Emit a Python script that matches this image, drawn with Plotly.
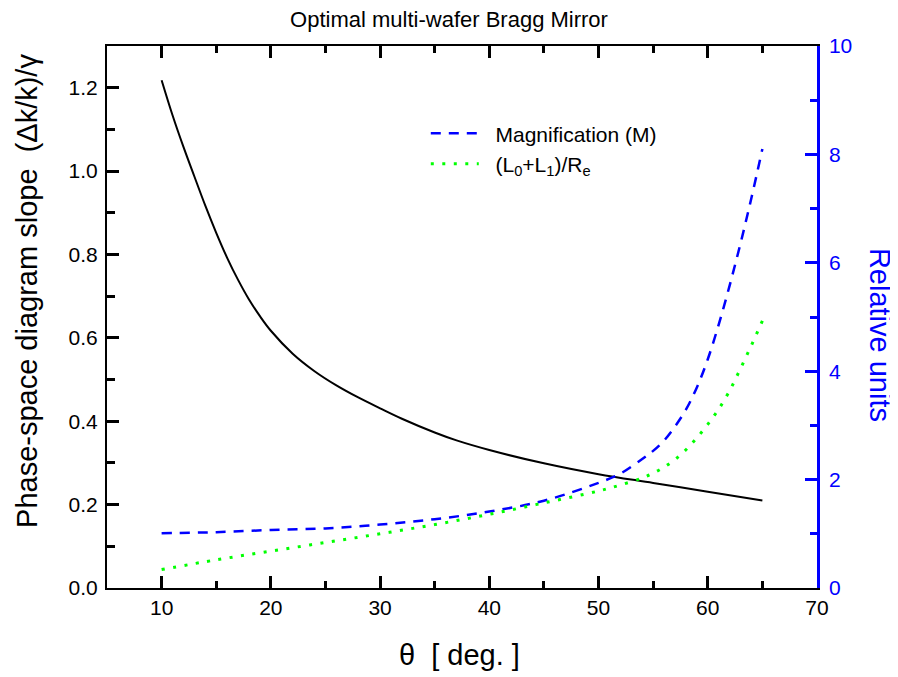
import plotly.graph_objects as go

# ---- data ----
theta_slope = [10, 11, 12, 13, 14, 15, 16, 17, 18, 19, 20, 22, 24, 26, 28, 30,
               32, 35, 37, 40, 45, 50, 55, 60, 65]
slope = [1.218, 1.134, 1.058, 0.987, 0.917, 0.852, 0.792, 0.739, 0.692, 0.652, 0.617,
         0.562, 0.520, 0.486, 0.457, 0.431, 0.406, 0.373, 0.354, 0.331, 0.299, 0.273,
         0.252, 0.231, 0.210]

theta_rel = [10, 15, 20, 25, 30, 35, 40, 45, 50, 52, 54, 55, 56, 57, 58, 59, 60, 61, 62, 63, 64, 65]
magnification = [1.01, 1.03, 1.07, 1.10, 1.17, 1.27, 1.41, 1.61, 1.94, 2.11, 2.38, 2.53, 2.72,
                 2.98, 3.29, 3.70, 4.22, 4.86, 5.58, 6.36, 7.20, 8.10]
length_ratio = [0.34, 0.52, 0.68, 0.84, 1.00, 1.17, 1.36, 1.57, 1.79, 1.90, 2.03, 2.12, 2.23,
                2.37, 2.55, 2.77, 3.02, 3.30, 3.64, 4.05, 4.48, 4.93]

x_range = [5, 70]
y_left_range = [0, 1.3]
y_right_range = [0, 10]

FONT = "Arial, Liberation Sans, sans-serif"
BLUE = "#0000ff"
GREEN = "#00ff00"
NB = "\u00a0\u00a0"

fig = go.Figure()
fig.add_trace(go.Scatter(x=theta_slope, y=slope, mode="lines", showlegend=False,
                         line=dict(color="black", width=2, shape="spline")))
fig.add_trace(go.Scatter(x=theta_rel, y=magnification, mode="lines", yaxis="y2",
                         name=NB + "Magnification (M)",
                         line=dict(color=BLUE, width=2.5, dash="10px,8px", shape="spline")))
fig.add_trace(go.Scatter(x=theta_rel, y=length_ratio, mode="lines", yaxis="y2",
                         name=NB + "(L<sub>0</sub>+L<sub>1</sub>)/R<sub>e</sub>",
                         line=dict(color=GREEN, width=3, dash="3px,8.5px", shape="spline")))

# empty carriers so the tick-only overlay axes are drawn
for xa, ya in [("x2", "y"), ("x3", "y"), ("x", "y3"), ("x", "y4"), ("x", "y5"), ("x", "y6")]:
    fig.add_trace(go.Scatter(x=[], y=[], xaxis=xa, yaxis=ya, showlegend=False,
                             hoverinfo="skip", mode="lines"))


def tick_axis(rng, dtick, length, color, **kw):
    d = dict(range=rng, autorange=False, tick0=0, dtick=dtick, ticks="inside",
             ticklen=length, tickwidth=2.5, tickcolor=color, showticklabels=False,
             showgrid=False, zeroline=False, fixedrange=True)
    d.update(kw)
    return d


fig.update_layout(
    width=890, height=669,
    margin=dict(l=99, r=81, t=38, b=89),
    paper_bgcolor="white", plot_bgcolor="rgba(0,0,0,0)",
    font=dict(family=FONT, size=21, color="black"),
    title=dict(text="Optimal multi-wafer Bragg Mirror", x=(449 - 8) / 890, xanchor="center",
               y=1 - 11 / 669, yanchor="middle", font=dict(size=22, color="black")),
    xaxis=dict(range=x_range, autorange=False, tick0=0, dtick=10, ticks="",
               showline=True, linecolor="black", linewidth=2, mirror=True,
               showgrid=False, zeroline=False),
    xaxis2=tick_axis(x_range, 10, 12, "black", overlaying="x", anchor="y", side="bottom",
                     showline=True, linecolor="black", linewidth=2, mirror="ticks"),
    xaxis3=tick_axis(x_range, 5, 7, "black", overlaying="x", anchor="y", side="bottom",
                     showline=True, linecolor="black", linewidth=2, mirror="ticks"),
    yaxis=dict(range=y_left_range, autorange=False, tick0=0, dtick=0.2, tickformat=".1f",
               ticks="", showline=True, linecolor="black", linewidth=2,
               showgrid=False, zeroline=False, ticklabelstandoff=3),
    yaxis3=tick_axis(y_left_range, 0.2, 12, "black", overlaying="y", anchor="x",
                     side="left", showline=True, linecolor="black", linewidth=2),
    yaxis4=tick_axis(y_left_range, 0.1, 8, "black", overlaying="y", anchor="x",
                     side="left", showline=True, linecolor="black", linewidth=2),
    yaxis2=dict(range=y_right_range, autorange=False, tick0=0, dtick=2,
                overlaying="y", side="right", anchor="x", ticks="",
                showline=True, linecolor=BLUE, linewidth=2.5,
                tickfont=dict(color=BLUE, size=21),
                showgrid=False, zeroline=False, ticklabelstandoff=5),
    yaxis5=tick_axis(y_right_range, 2, 12, BLUE, overlaying="y", anchor="x", side="right",
                     showline=True, linecolor=BLUE, linewidth=2.5),
    yaxis6=tick_axis(y_right_range, 1, 7, BLUE, overlaying="y", anchor="x", side="right",
                     showline=True, linecolor=BLUE, linewidth=2.5),
    legend=dict(x=0.449, y=0.876, xanchor="left", yanchor="top", itemwidth=48,
                bgcolor="rgba(0,0,0,0)", font=dict(size=21), tracegroupgap=0),
    annotations=[
        dict(text="Phase-space diagram slope  (Δk/k)/γ", textangle=-90, showarrow=False,
             xref="paper", yref="paper", x=-0.1127, y=0.548,
             xanchor="center", yanchor="middle", font=dict(size=29, color="black")),
        dict(text="Relative units", textangle=90, showarrow=False,
             xref="paper", yref="paper", x=1.0887, y=0.467,
             xanchor="center", yanchor="middle", font=dict(size=29, color=BLUE)),
        dict(text="θ  [ deg. ]", showarrow=False,
             xref="paper", yref="paper", x=0.496, y=-0.1236,
             xanchor="center", yanchor="middle", font=dict(size=29, color="black")),
    ],
)

fig.write_html("out.html")
